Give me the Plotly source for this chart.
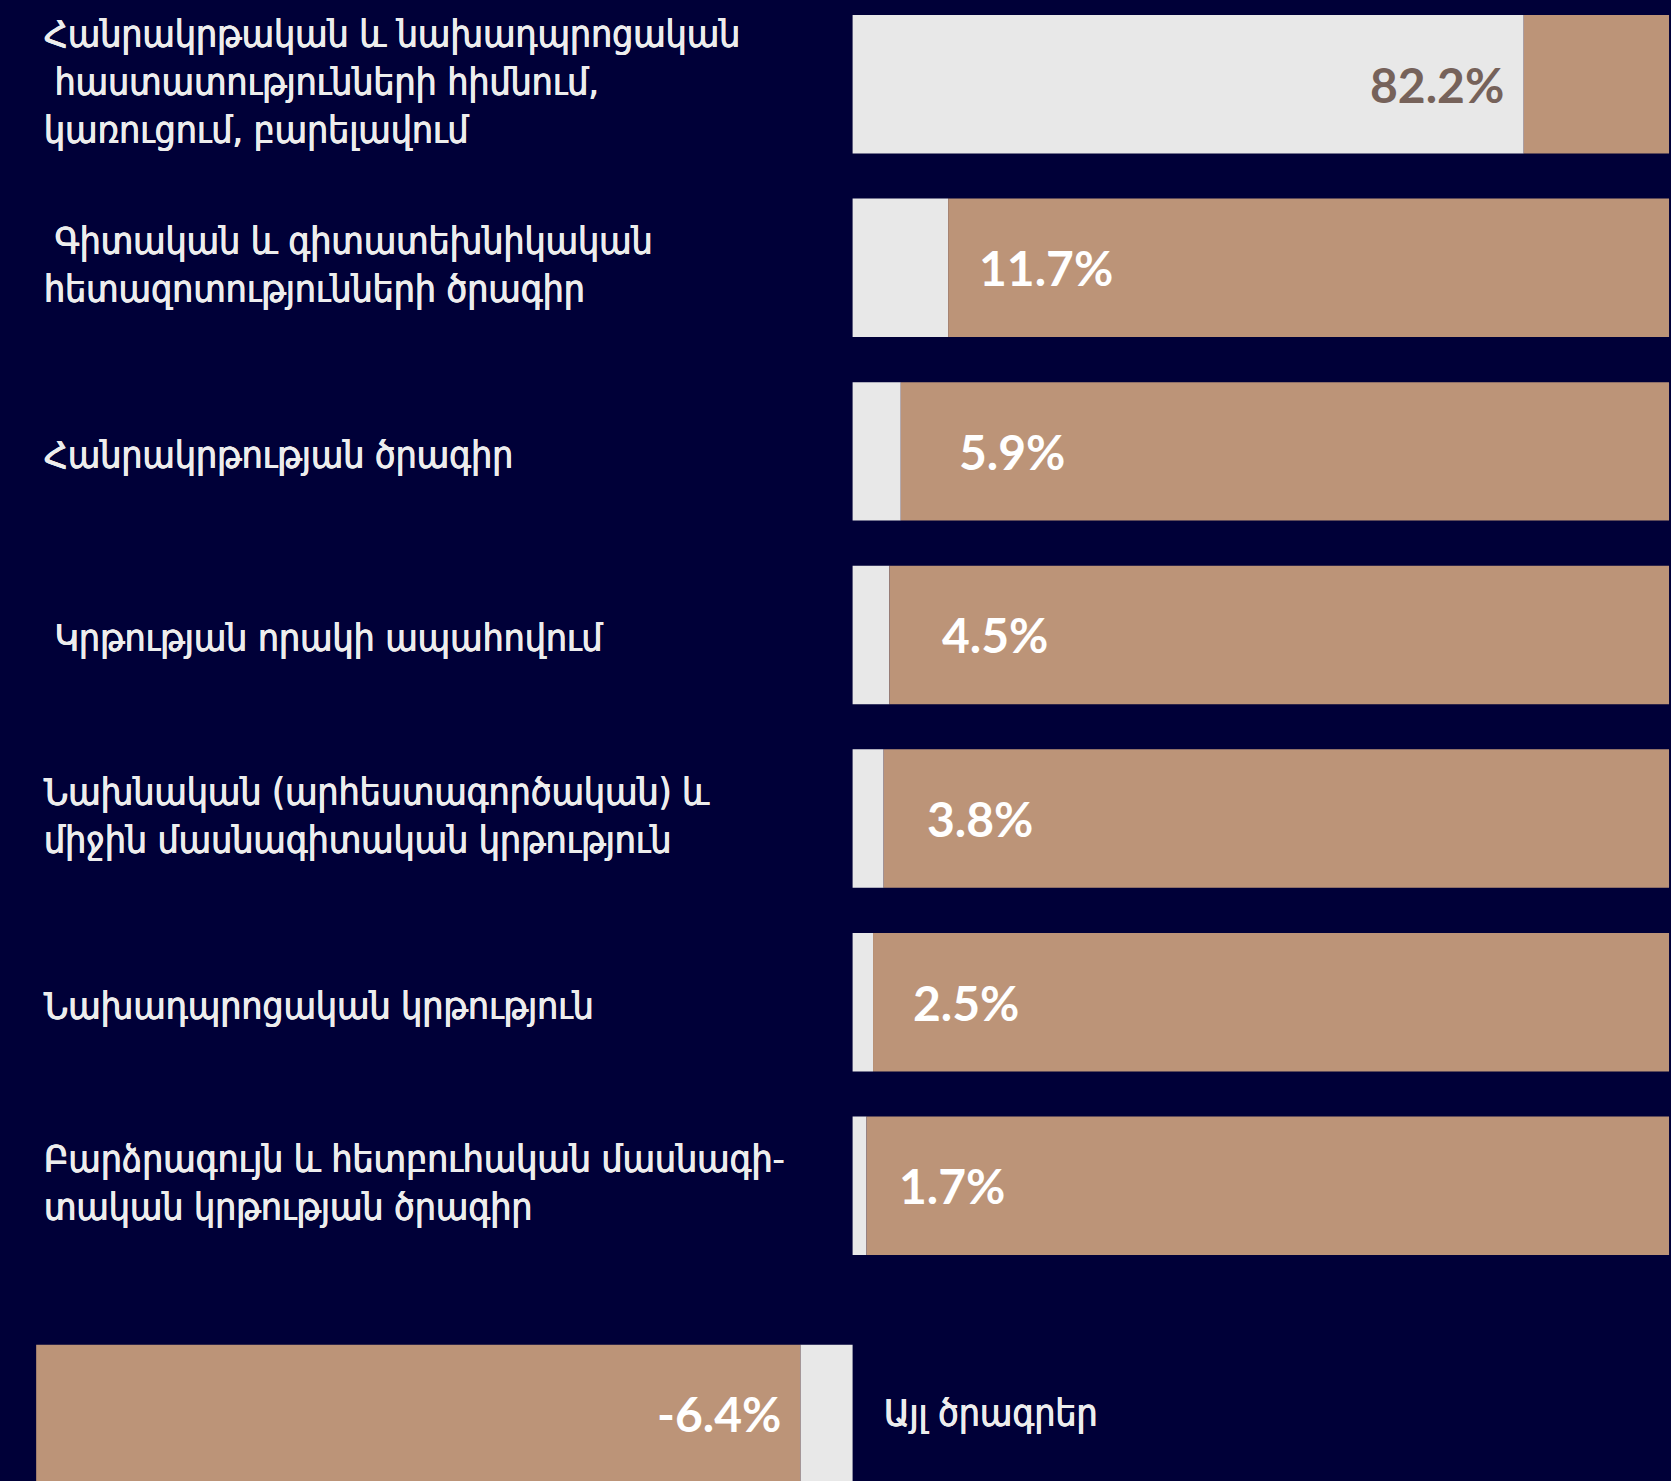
import plotly.graph_objects as go

# ---- data ----
categories = [
    "Հանրակրթական և նախադպրոցական<br> հաստատությունների հիմնում,<br>կառուցում, բարելավում",
    " Գիտական և գիտատեխնիկական<br>հետազոտությունների ծրագիր",
    "Հանրակրթության ծրագիր",
    " Կրթության որակի ապահովում",
    "Նախնական (արհեստագործական) և<br>միջին մասնագիտական կրթություն",
    "Նախադպրոցական կրթություն",
    "Բարձրագույն և հետբուհական մասնագի-<br>տական կրթության ծրագիր",
    "Այլ ծրագրեր",
]
values = [82.2, 11.7, 5.9, 4.5, 3.8, 2.5, 1.7, -6.4]
value_labels = ["82.2%", "11.7%", "5.9%", "4.5%", "3.8%", "2.5%", "1.7%", "-6.4%"]

# ---- layout constants ----
BG = "#000038"
GRAY = "#E8E8E8"
TAN = "#BC9478"
DARK_TXT = "#76625A"
LAST_GAP = 0.243           # extra space before the last row
BAR_W = 0.754
LABEL_PAD = [-2.2, 3.57, 6.9, 6.2, 5.1, 4.68, 3.78, -2.1]  # label offset from bar end

n = len(values)
ypos = [i + (LAST_GAP if i == n - 1 else 0) for i in range(n)]
rest = [(100 - abs(v)) * (1 if v >= 0 else -1) for v in values]

fig = go.Figure()
fig.add_trace(go.Bar(y=ypos, x=values, orientation="h", marker_color=GRAY,
                     marker_line_width=0, width=BAR_W, hoverinfo="skip"))
fig.add_trace(go.Bar(y=ypos, x=rest, orientation="h", marker_color=TAN,
                     marker_line_width=0, width=BAR_W, hoverinfo="skip"))

val_font = dict(family="Lato, Open Sans, sans-serif", size=48, weight=700)
cat_font = dict(family="DejaVu Sans Condensed, DejaVu Sans, sans-serif", size=37,
                weight=400, color="#EDEDED",
                shadow="0.4px 0 0 #EDEDED, -0.4px 0 0 #EDEDED")

for i, (v, lab, cat, pad) in enumerate(zip(values, value_labels, categories, LABEL_PAD)):
    y = ypos[i]
    inside = pad < 0
    color = DARK_TXT if (inside and v > 0) else "white"
    fig.add_annotation(x=v + pad, y=y, xref="x", yref="y", text=lab, showarrow=False,
                       xanchor="right" if inside else "left", yanchor="middle",
                       font=dict(color=color, **val_font))
    multi = "<br>" in cat
    if v >= 0:
        fig.add_annotation(x=42 / 1671, y=y, xref="paper", yref="y", text=cat,
                           showarrow=False, xanchor="left", yanchor="middle",
                           align="left", yshift=2 if multi else -4, font=cat_font)
    else:
        fig.add_annotation(x=3.6, y=y, xref="x", yref="y", text=cat,
                           showarrow=False, xanchor="left", yanchor="middle",
                           align="left", font=cat_font)

fig.update_layout(
    width=1671, height=1481,
    margin=dict(l=0, r=0, t=0, b=0),
    paper_bgcolor=BG, plot_bgcolor=BG,
    barmode="relative", showlegend=False,
    xaxis=dict(range=[-104.43, 100.24], visible=False, fixedrange=True),
    yaxis=dict(range=[7.608, -0.4586], visible=False, fixedrange=True),
)

fig.write_html("out.html", config={"displayModeBar": False},
               post_script="document.body.style.margin='0';document.body.style.background='%s';document.body.style.overflow='hidden';" % BG)
